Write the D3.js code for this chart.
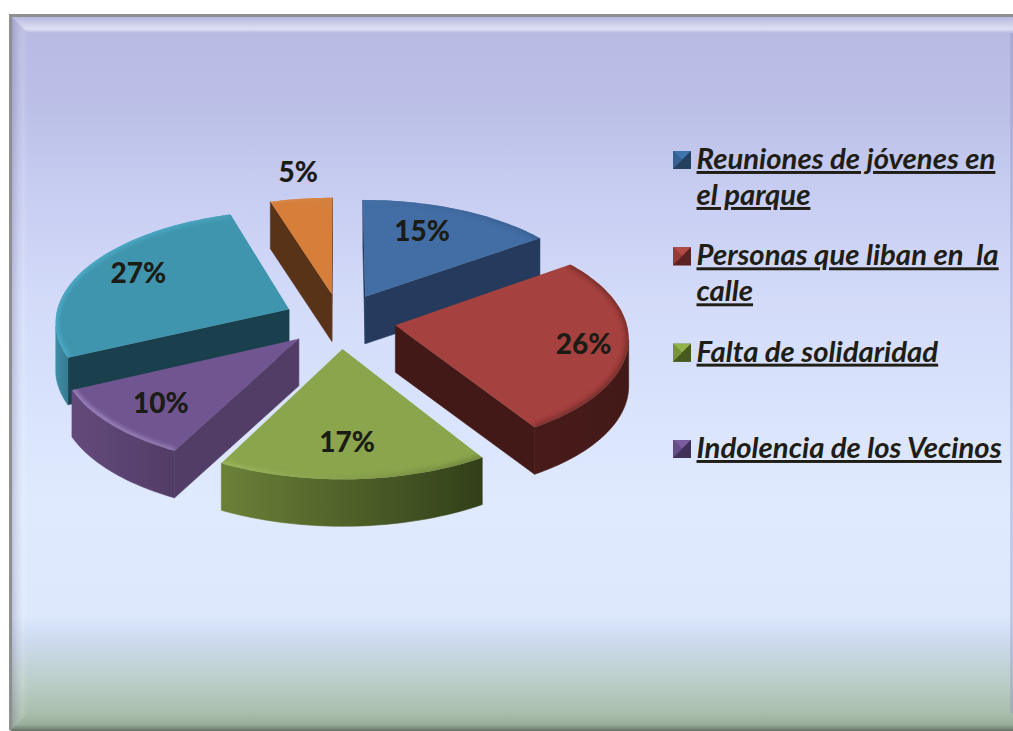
<!DOCTYPE html>
<html><head><meta charset="utf-8">
<script src="https://cdn.jsdelivr.net/npm/d3@7/dist/d3.min.js"></script>
<style>html,body{margin:0;padding:0;background:#fff;overflow:hidden}svg{display:block}</style>
</head><body><svg id="c" width="1013" height="731"></svg>
<script>
// ---- data ----
const values = [15.1, 26, 16.5, 10.4, 27.2, 4.8];
const valueLabels = ["15%", "26%", "17%", "10%", "27%", "5%"];
const legendLines = [
  ["Reuniones de jóvenes en", "el parque"],
  ["Personas que liban en  la", "calle"],
  ["Falta de solidaridad"],
  ["Indolencia de los Vecinos"]
];
// ---- styles ----
const topColors   = ["#426ea5", "#a5413f", "#8aa54c", "#705590", "#4095ae", "#d67f3b"];
const sideColors  = ["#253a5c", "#431917", "#33401a", "#523d66", "#19404c", "#583317"];
const outerL      = ["#253a5c", "#471b19", "#6b8138", "#644a7c", "#3f8da6", "#583317"];
const outerR      = ["#253a5c", "#431917", "#323f19", "#523d66", "#347a90", "#583317"];
const rimL        = ["#5d8ac4", "#c05c58", "#bcd672", "#a890c6", "#4fb0cc", "#eb9a55"];
const rimR        = ["#35598a", "#6e2a28", "#55682c", "#5a4478", "#3b8aa2", "#b86a2e"];
const swatchA     = ["#3e74ad", "#b24a45", "#93b24c", "#7a5c9e"];
const swatchB     = ["#25405f", "#5a2321", "#47591f", "#3f3158"];
// ---- geometry ----
const W = 1013, H = 731;
const cx = 340, cy = 320, scaleX = 234, scaleY = 111, persp = 0.10, depth = 47;
const explodeBy   = [0.24, 0.24, 0.255, 0.24, 0.24, 0.24];
const sliceRadius = [1, 0.985, 1, 1, 1, 1];
const labelRadius = [0.72, 0.80, 0.73, 0.75, 0.77, 1.33];
const labelTurn   = [-5, 0, 1, 0, 4, 1.3];
const labelFont = "900 28px Lato, 'Open Sans', sans-serif";
const legendFont = "italic 700 29.3px Lato, 'Open Sans', sans-serif";

const svg = d3.select("#c");
const defs = svg.append("defs");

// background
const bgStops = [[0,"#b6b9e1"],[.12,"#bbbfe7"],[.24,"#c7ccf1"],[.40,"#d3dbf9"],[.68,"#dfeafe"],[.84,"#dde8fc"],[.87,"#cfdcf2"],[.94,"#b9ccc4"],[.98,"#a8bdab"],[1,"#a4b8a6"]];
const bg = defs.append("linearGradient").attr("id","bg").attr("x1",0).attr("x2",0).attr("y1",0).attr("y2",1);
bg.selectAll("stop").data(bgStops).join("stop").attr("offset",d=>d[0]).attr("stop-color",d=>d[1]);
const fx0 = 12, fy0 = 17, fx1 = 1013, fy1 = 729, bev = 16;
svg.append("rect").attr("x",fx0).attr("y",fy0).attr("width",fx1-fx0).attr("height",fy1-fy0).attr("fill","url(#bg)");

// bevels
function vgrad(id, stops, horiz){
  const g = defs.append("linearGradient").attr("id",id).attr("gradientUnits","objectBoundingBox")
    .attr("x1",0).attr("y1",0).attr("x2",horiz?1:0).attr("y2",horiz?0:1);
  g.selectAll("stop").data(stops).join("stop").attr("offset",d=>d[0]).attr("stop-color",d=>d[1]).attr("stop-opacity",d=>d[2]);
}
vgrad("bevT",[[0,"#ffffff",0],[.75,"#ffffff",.55],[1,"#ffffff",0]],false);
vgrad("bevL",[[0,"#55557a",.25],[.7,"#ffffff",.12],[1,"#ffffff",0]],true);
vgrad("bevB",[[0,"#5c6f5e",0],[.7,"#5c6f5e",.15],[1,"#3c4a3e",.45]],false);
const line2 = d3.line();
svg.append("path").attr("d",line2([[fx0,fy0],[fx1,fy0],[fx1,fy0+bev],[fx0+bev,fy0+bev]])+"Z").attr("fill","url(#bevT)");
svg.append("path").attr("d",line2([[fx0,fy0],[fx0+bev,fy0+bev],[fx0+bev,fy1-bev],[fx0,fy1]])+"Z").attr("fill","url(#bevL)");
svg.append("path").attr("d",line2([[fx0,fy1],[fx0+bev,fy1-bev],[fx1,fy1-bev],[fx1,fy1]])+"Z").attr("fill","url(#bevB)");
svg.append("rect").attr("x",1010).attr("y",fy0+bev).attr("width",3).attr("height",fy1-fy0-2*bev).attr("fill","#8f90c0").attr("opacity",.35);
// frame
svg.append("path").attr("d",line2([[fx1,fy0-1.5],[fx0-1.5,fy0-1.5],[fx0-1.5,fy1+1]])).attr("fill","none").attr("stroke","#8f8f8f").attr("stroke-width",3);
svg.append("path").attr("d",line2([[fx0-1.5,fy1+1],[fx1,fy1+1]])).attr("fill","none").attr("stroke","#6f7a6f").attr("stroke-width",2);

// projection of the exploded pie
const rad = Math.PI/180;
const xScale = d3.scaleLinear().domain([-1,1]).range([cx-scaleX,cx+scaleX]);
const yScale = d3.scaleLinear().domain([-1,1]).range([cy-scaleY,cy+scaleY]);
function project(X,Y,z){
  const s = 1/(1-persp*Y);
  return [xScale(X*s), yScale(Y*s)+(z||0)];
}
const pie = d3.pie().sort(null).startAngle(0).endAngle(2*Math.PI).value(d=>d);
const arcs = pie(values);
const line = d3.line();

function apexOf(a){
  const m=(a.startAngle+a.endAngle)/2, e=explodeBy[a.index];
  return [e*Math.sin(m), -e*Math.cos(m)];
}
function rimPt(a,th,rho){
  const ap=apexOf(a), r=rho===undefined?sliceRadius[a.index]:rho;
  return [ap[0]+r*Math.sin(th), ap[1]-r*Math.cos(th)];
}
function thetas(a){
  const n=Math.max(4,Math.ceil((a.endAngle-a.startAngle)/(1.5*rad)));
  return d3.range(n+1).map(i=>a.startAngle+(a.endAngle-a.startAngle)*i/n);
}
// filters
const blur = defs.append("filter").attr("id","soft").attr("x","-20%").attr("y","-20%").attr("width","140%").attr("height","140%");
blur.append("feGaussianBlur").attr("stdDeviation",2);

// painter's order: back to front
const order = [5,0,4,1,3,2];
const g = svg.append("g");
order.forEach(i=>{
  const a = arcs[i], ap = apexOf(a), ths = thetas(a);
  const apexTop = project(ap[0],ap[1],0), apexBot = project(ap[0],ap[1],depth);
  const top = ths.map(t=>{const p=rimPt(a,t);return project(p[0],p[1],0);});
  const slice = g.append("g").attr("class","slice");

  // outer wall: only the stretch that faces the viewer
  const front = ths.filter((t,k)=>{
    const x0=top[k][0], x1=k<top.length-1?top[k+1][0]:top[k][0]-(top[k-1][0]-top[k][0]);
    return x1<x0;
  });
  // radial walls go first so the outer wall overlaps their shared seam
  [[a.startAngle,-1],[a.endAngle,1]].forEach(([t,sign])=>{
    const p=rimPt(a,t), o=project(p[0],p[1],0), o2=project(p[0],p[1],depth);
    if((o[0]-apexTop[0])*sign>0.5){
      slice.append("path").attr("d",line([apexTop,o,o2,apexBot])+"Z").attr("fill",sideColors[i])
        .attr("stroke",sideColors[i]).attr("stroke-width",0.6);
    }
  });
  if(front.length>1){
    const up = front.map(t=>{const p=rimPt(a,t);return project(p[0],p[1],0);});
    const dn = front.map(t=>{const p=rimPt(a,t);return project(p[0],p[1],depth);}).reverse();
    const xs = up.map(d=>d[0]);
    const gid="outer"+i;
    const lg=defs.append("linearGradient").attr("id",gid).attr("gradientUnits","userSpaceOnUse")
      .attr("x1",d3.min(xs)).attr("x2",d3.max(xs)).attr("y1",0).attr("y2",0);
    lg.append("stop").attr("offset",0).attr("stop-color",outerL[i]);
    lg.append("stop").attr("offset",1).attr("stop-color",outerR[i]);
    slice.append("path").attr("d",line(up.concat(dn))+"Z").attr("fill",`url(#${gid})`)
      .attr("stroke",`url(#${gid})`).attr("stroke-width",0.6);
  }
  // top face
  const outline = [apexTop].concat(top);
  const d = line(outline)+"Z";
  slice.append("path").attr("d",d).attr("fill",topColors[i]);
  // bevelled rim, clipped to the face
  const cid="clip"+i;
  defs.append("clipPath").attr("id",cid).append("path").attr("d",d);
  const rg=defs.append("linearGradient").attr("id","rim"+i).attr("gradientUnits","userSpaceOnUse")
    .attr("x1",cx-scaleX).attr("x2",cx+scaleX).attr("y1",0).attr("y2",0);
  rg.append("stop").attr("offset",0).attr("stop-color",rimL[i]);
  rg.append("stop").attr("offset",1).attr("stop-color",rimR[i]);
  slice.append("g").attr("clip-path",`url(#${cid})`)
    .append("path").attr("d",line(top)).attr("fill","none").attr("stroke",`url(#rim${i})`)
    .attr("stroke-width",6).attr("opacity",.8).attr("filter","url(#soft)");
});

// value labels
svg.append("g").selectAll("text").data(arcs).join("text")
  .attr("transform",(a,i)=>{
    const m=(a.startAngle+a.endAngle)/2+labelTurn[i]*rad;
    const p=rimPt(a,m,labelRadius[i]);
    const q=project(p[0],p[1],0);
    return `translate(${q[0]},${q[1]})`;
  })
  .attr("text-anchor","middle").attr("dominant-baseline","central")
  .style("font",labelFont).attr("fill","#1c1c16")
  .text((a,i)=>valueLabels[i]);

// legend
const legendX = 673, swatch = 18, textX = 696.5;
const legendY = d3.scalePoint().domain(d3.range(legendLines.length)).range([169,458]);
const lineStep = 36;
const lg = svg.append("g").selectAll("g").data(legendLines).join("g")
  .attr("transform",(d,i)=>`translate(0,${legendY(i)})`);
lg.each(function(lines,i){
  const s=d3.select(this);
  const x0=legendX,x1=legendX+swatch,y0=-swatch,y1=0,mx=x0+swatch/2,my=-swatch/2;
  s.append("rect").attr("x",x0).attr("y",y0).attr("width",swatch).attr("height",swatch).attr("fill",swatchB[i]);
  s.append("path").attr("d",line([[x0,y0],[x1,y0],[mx,my]])+"Z").attr("fill",swatchA[i]);
  s.append("path").attr("d",line([[x1,y0],[x1,y1],[x0,y1]])+"Z").attr("fill",swatchB[i]);
  s.append("path").attr("d",line([[x0,y0],[mx,my],[x0,y1]])+"Z").attr("fill",d3.interpolateRgb(swatchA[i],swatchB[i])(.35));
  s.selectAll("text").data(lines).join("text")
    .attr("x",textX).attr("y",(d,k)=>k*lineStep)
    .attr("xml:space","preserve").style("white-space","pre")
    .style("font",legendFont).attr("fill","#1f1d14").attr("text-decoration","underline")
    .text(d=>d);
});
</script></body></html>
